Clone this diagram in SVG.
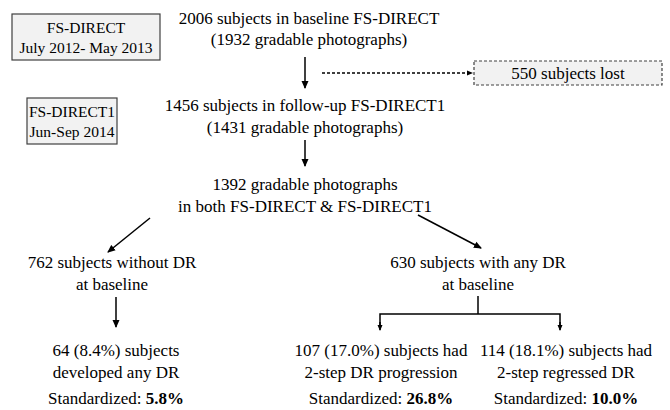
<svg xmlns="http://www.w3.org/2000/svg" width="670" height="410" viewBox="0 0 670 410">
<defs>
<marker id="ah" markerWidth="8" markerHeight="8" refX="7" refY="4" orient="auto" markerUnits="userSpaceOnUse"><path d="M0,0.5 L8,4 L0,7.5 Z" fill="#000"/></marker>
<marker id="ahs" markerWidth="6" markerHeight="6" refX="5" refY="3" orient="auto" markerUnits="userSpaceOnUse"><path d="M0,0.5 L6,3 L0,5.5 Z" fill="#000"/></marker>
</defs>
<style>
text{font-size:17px;fill:#000;text-anchor:middle}
.sm{font-size:15.5px}
.box{fill:#f2f2f2;stroke:#404040;stroke-width:1.2}
.dbox{fill:#f2f2f2;stroke:#404040;stroke-width:1.2;stroke-dasharray:3,2}
.ln{stroke:#000;stroke-width:1.5;fill:none}
.b{font-weight:bold}
</style>
<rect width="670" height="410" fill="#fff"/>
<g font-family="'Liberation Serif', 'DejaVu Serif', serif">
<g id="period1"><rect class="box" x="12" y="14" width="148" height="46"/><text class="sm" x="86" y="33">FS-DIRECT</text><text class="sm" x="86" y="53">July 2012- May 2013</text></g>
<g id="period2"><rect class="box" x="27" y="98" width="90" height="46"/><text class="sm" x="72" y="117">FS-DIRECT1</text><text class="sm" x="72" y="137">Jun-Sep 2014</text></g>
<g id="baseline"><text x="309" y="24">2006 subjects in baseline FS-DIRECT</text><text x="309" y="45">(1932 gradable photographs)</text></g>
<g id="lost"><rect class="dbox" x="474" y="61" width="188" height="24"/><text x="568" y="79">550 subjects lost</text></g>
<g id="followup"><text x="305" y="111">1456 subjects in follow-up FS-DIRECT1</text><text x="305" y="133">(1431 gradable photographs)</text></g>
<g id="both"><text x="305" y="190">1392 gradable photographs</text><text x="305" y="212">in both FS-DIRECT &amp; FS-DIRECT1</text></g>
<g id="noDR"><text x="112" y="268">762 subjects without DR</text><text x="112" y="290">at baseline</text></g>
<g id="anyDR"><text x="478" y="268">630 subjects with any DR</text><text x="478" y="290">at baseline</text></g>
<g id="developed"><text x="116" y="356">64 (8.4%) subjects</text><text x="116" y="378">developed any DR</text><text x="116" y="404">Standardized: <tspan class="b">5.8%</tspan></text></g>
<g id="progression"><text x="381" y="356">107 (17.0%) subjects had</text><text x="381" y="378">2-step DR progression</text><text x="381" y="404">Standardized: <tspan class="b">26.8%</tspan></text></g>
<g id="regressed"><text x="566" y="356">114 (18.1%) subjects had</text><text x="566" y="378">2-step regressed DR</text><text x="566" y="404">Standardized: <tspan class="b">10.0%</tspan></text></g>
</g>
<g id="connectors">
<line class="ln" x1="305" y1="57" x2="305" y2="88" marker-end="url(#ah)"/>
<line class="ln" x1="322" y1="73" x2="472" y2="73" stroke-dasharray="3,2" marker-end="url(#ahs)"/>
<line class="ln" x1="305" y1="140" x2="305" y2="166" marker-end="url(#ah)"/>
<line class="ln" x1="150" y1="218" x2="108" y2="252" marker-end="url(#ah)"/>
<line class="ln" x1="418" y1="215" x2="481" y2="248" marker-end="url(#ah)"/>
<line class="ln" x1="116" y1="297" x2="116" y2="327" marker-end="url(#ah)"/>
<polyline class="ln" points="478,296 478,314"/>
<polyline class="ln" points="380,326 380,314 560,314 560,326"/>
<line class="ln" x1="380" y1="322" x2="380" y2="330" marker-end="url(#ahs)"/>
<line class="ln" x1="560" y1="322" x2="560" y2="330" marker-end="url(#ahs)"/>
</g>
</svg>
